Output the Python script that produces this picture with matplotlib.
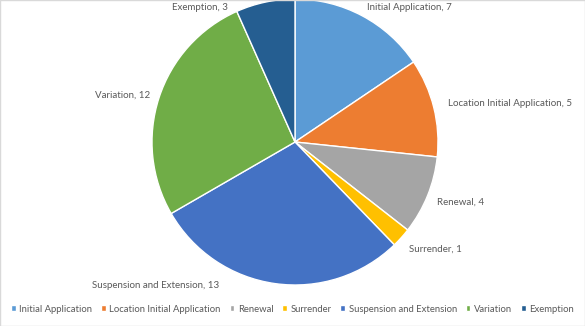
import matplotlib.pyplot as plt
from matplotlib.patches import Rectangle

categories = ['Initial Application', 'Location Initial Application', 'Renewal',
              'Surrender', 'Suspension and Extension', 'Variation', 'Exemption']
counts = [7, 5, 4, 1, 13, 12, 3]
colors = ['#5B9BD5', '#ED7D31', '#A5A5A5', '#FFC000', '#4472C4', '#70AD47', '#255E91']

# label anchor positions (in pie radius units) and alignment
label_pos = [(0.80, 0.94, 'center'), (1.07, 0.27, 'left'), (0.99, -0.42, 'left'),
             (0.80, -0.75, 'left'), (-0.53, -1.0, 'right'), (-1.01, 0.33, 'right'),
             (-0.47, 0.94, 'right')]

plt.rcParams['font.family'] = ['Lato', 'DejaVu Sans']

W, H = 585, 326
fig = plt.figure(figsize=(W / 100, H / 100), dpi=100)
fig.patches.append(Rectangle((0, 0), 1, 1, transform=fig.transFigure,
                             fill=False, edgecolor='#D9D9D9', linewidth=1))

cx, cy, r = 295, 326 - 142, 143
ax = fig.add_axes([(cx - r) / W, (cy - r) / H, 2 * r / W, 2 * r / H])
wedges, _ = ax.pie(counts, colors=colors, startangle=90, counterclock=False,
                   radius=1, wedgeprops=dict(edgecolor='white', linewidth=1))
ax.set_xlim(-1, 1)
ax.set_ylim(-1, 1)

for name, val, (x, y, ha) in zip(categories, counts, label_pos):
    ax.text(x, y, '%s, %d' % (name, val), ha=ha, va='center',
            fontsize=7, color='#595959', clip_on=False)

leg = fig.legend(wedges, categories, loc='center', bbox_to_anchor=(0.5, 17 / H),
                 ncol=7, frameon=False, fontsize=6.8, handlelength=0.5,
                 handleheight=0.5, handletextpad=0.35, columnspacing=0.95,
                 labelcolor='#595959', borderpad=0, borderaxespad=0)

fig.savefig('out.png', dpi=100)
